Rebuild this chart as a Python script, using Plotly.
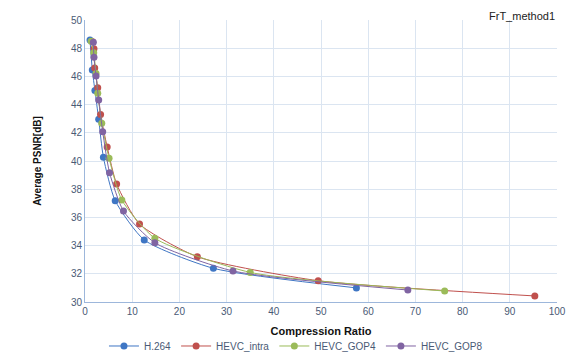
import plotly.graph_objects as go

series_names = ["H.264", "HEVC_intra", "HEVC_GOP4", "HEVC_GOP8"]

h264_x = [1.06, 1.55, 2.1, 2.9, 3.9, 6.4, 12.55, 27.2, 57.5]
h264_y = [48.58, 46.45, 45.0, 42.96, 40.26, 37.18, 34.4, 32.39, 31.0]

intra_x = [1.6, 1.9, 2.06, 2.7, 3.3, 4.7, 6.7, 11.55, 23.8, 49.4, 95.3]
intra_y = [48.45, 47.96, 46.6, 45.2, 43.3, 41.0, 38.37, 35.53, 33.21, 31.51, 30.43]

gop4_x = [1.3, 1.85, 2.34, 2.7, 3.55, 5.1, 7.8, 14.8, 35.0, 76.2]
gop4_y = [48.5, 47.68, 46.2, 44.8, 42.67, 40.19, 37.23, 34.52, 32.1, 30.78]

gop8_x = [1.77, 1.9, 2.34, 2.9, 3.75, 5.2, 8.15, 14.8, 31.35, 68.4]
gop8_y = [48.42, 47.35, 46.03, 44.33, 42.08, 39.17, 36.45, 34.2, 32.2, 30.85]

colors = ["#3f76c4", "#c0504d", "#9bbb59", "#8064a2"]

xs = [h264_x, intra_x, gop4_x, gop8_x]
ys = [h264_y, intra_y, gop4_y, gop8_y]

fig = go.Figure()
for name, x, y, c in zip(series_names, xs, ys, colors):
    fig.add_trace(go.Scatter(
        x=x, y=y, name=name, mode="lines+markers",
        line=dict(color=c, width=1, shape="spline", smoothing=0.6),
        marker=dict(color=c, size=7),
    ))

grid_c = "#dbe5f1"
tick_font = dict(family="Liberation Sans, Arial", size=10, color="#4a5a75")

fig.update_layout(
    width=570, height=352,
    margin=dict(l=77, r=21, t=12, b=58, autoexpand=False),
    paper_bgcolor="white", plot_bgcolor="white",
    showlegend=True,
    legend=dict(orientation="h", x=0.447, xanchor="center", y=-0.156, yanchor="middle",
                font=dict(family="Liberation Sans, Arial", size=10, color="#4a5a75"),
                itemwidth=30, tracegroupgap=0),
    xaxis=dict(range=[0, 100], dtick=10, showgrid=True, gridcolor=grid_c, gridwidth=1,
               showline=True, linecolor="#9db7db", linewidth=1, zeroline=False,
               ticks="", tickfont=tick_font, automargin=False,
               title=dict(text="<b>Compression Ratio</b>", standoff=11,
                          font=dict(family="Liberation Sans, Arial", size=11, color="#111111"))),
    yaxis=dict(range=[30, 50], dtick=2, showgrid=True, gridcolor=grid_c, gridwidth=1,
               showline=True, linecolor="#9db7db", linewidth=1, zeroline=False,
               ticks="", tickfont=tick_font, automargin=False,
               title=dict(text="<b>Average PSNR[dB]</b>", standoff=27,
                          font=dict(family="Liberation Sans, Arial", size=10, color="#111111"))),
    annotations=[dict(text="FrT_method1", xref="paper", yref="paper", x=1.0, y=1.0425,
                      xanchor="right", yanchor="top", showarrow=False,
                      font=dict(family="Liberation Sans, Arial", size=11, color="#222222"))],
)

fig.write_html("out.html")
